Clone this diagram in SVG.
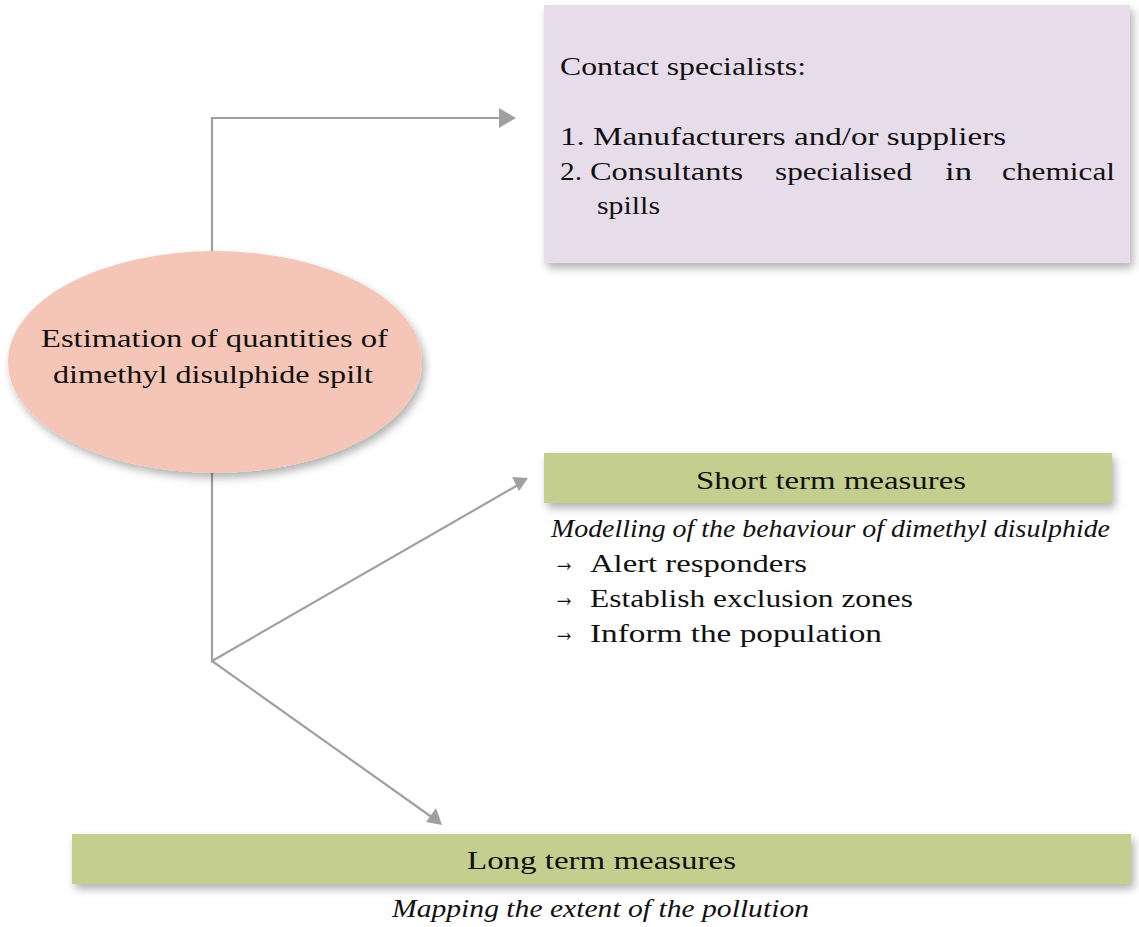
<svg xmlns="http://www.w3.org/2000/svg" width="1139" height="927" viewBox="0 0 1139 927">
<style>
text{font-family:'Liberation Serif','Times New Roman',Times,serif;fill:#111}
.t{font-size:26px}
.i{font-size:25px;font-style:italic}
.a{font-size:28px}
.c{stroke:#a0a0a0;stroke-width:2.2;fill:none}
</style>
<defs>
<filter id="sh" x="-10%" y="-10%" width="125%" height="140%">
<feDropShadow dx="3" dy="5" stdDeviation="4" flood-color="#000" flood-opacity="0.3"/>
</filter>
</defs>
<g id="connectors">
<polyline class="c" points="212,255 212,118 500,118"/>
<path d="M499,108 L516,118 L499,128 z" fill="#a0a0a0"/>
<polyline class="c" points="212,470 212,661 518,485"/>
<path d="M512,477 L528,478 L519,491 z" fill="#a0a0a0"/>
<line class="c" x1="212" y1="661" x2="433" y2="818"/>
<path d="M442,825 L426,822 L436,808 z" fill="#a0a0a0"/>
</g>
<g id="contact">
<rect x="544" y="5" width="586" height="258" fill="#e7dcea" filter="url(#sh)"/>
<text class="t" x="560" y="75" textLength="246" lengthAdjust="spacingAndGlyphs">Contact specialists:</text>
<text class="t" x="560" y="145" textLength="446" lengthAdjust="spacingAndGlyphs">1. Manufacturers and/or suppliers</text>
<text class="t" x="560" y="180" textLength="22" lengthAdjust="spacingAndGlyphs">2.</text>
<text class="t" x="590" y="180" textLength="153" lengthAdjust="spacingAndGlyphs">Consultants</text>
<text class="t" x="775" y="180" textLength="137" lengthAdjust="spacingAndGlyphs">specialised</text>
<text class="t" x="945" y="180" textLength="27" lengthAdjust="spacingAndGlyphs">in</text>
<text class="t" x="1002" y="180" textLength="113" lengthAdjust="spacingAndGlyphs">chemical</text>
<text class="t" x="597" y="214" textLength="63" lengthAdjust="spacingAndGlyphs">spills</text>
</g>
<g id="estimation">
<ellipse cx="215" cy="362" rx="207" ry="111" fill="#f5c6b8" filter="url(#sh)"/>
<text class="t" x="41" y="347" textLength="347" lengthAdjust="spacingAndGlyphs">Estimation of quantities of</text>
<text class="t" x="53" y="383" textLength="320" lengthAdjust="spacingAndGlyphs">dimethyl disulphide spilt</text>
</g>
<g id="short">
<rect x="544" y="453" width="568" height="50" fill="#c4ce8e" filter="url(#sh)"/>
<text class="t" x="696" y="489" textLength="270" lengthAdjust="spacingAndGlyphs">Short term measures</text>
<text class="i" x="551" y="537" textLength="559" lengthAdjust="spacingAndGlyphs">Modelling of the behaviour of dimethyl disulphide</text>
<text class="a" x="553" y="571" textLength="22" lengthAdjust="spacingAndGlyphs">→</text>
<text class="t" x="590" y="572" textLength="217" lengthAdjust="spacingAndGlyphs">Alert responders</text>
<text class="a" x="553" y="606" textLength="22" lengthAdjust="spacingAndGlyphs">→</text>
<text class="t" x="590" y="607" textLength="323" lengthAdjust="spacingAndGlyphs">Establish exclusion zones</text>
<text class="a" x="553" y="641" textLength="22" lengthAdjust="spacingAndGlyphs">→</text>
<text class="t" x="590" y="642" textLength="292" lengthAdjust="spacingAndGlyphs">Inform the population</text>
</g>
<g id="long">
<rect x="72" y="834" width="1059" height="50" fill="#c4ce8e" filter="url(#sh)"/>
<text class="t" x="467" y="869" textLength="269" lengthAdjust="spacingAndGlyphs">Long term measures</text>
<text class="i" x="392" y="917" textLength="417" lengthAdjust="spacingAndGlyphs">Mapping the extent of the pollution</text>
</g>
</svg>
